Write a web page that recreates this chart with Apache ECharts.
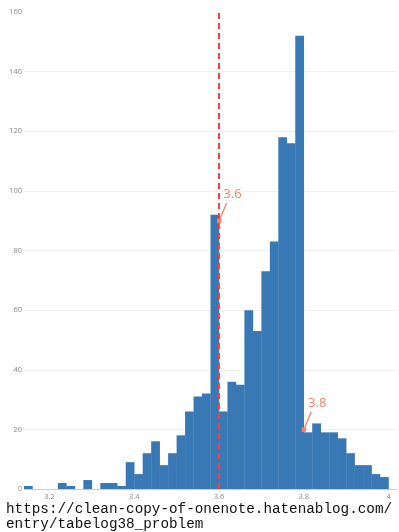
<!DOCTYPE html>
<html>
<head>
<meta charset="utf-8">
<script src="https://cdn.jsdelivr.net/npm/echarts@6/dist/echarts.min.js"></script>
<style>
html,body{margin:0;padding:0;background:#fff;}
#chart{width:399px;height:532px;}
</style>
</head>
<body>
<div id="chart"></div>
<script>
// Histogram bins (left edges) and counts
const binStarts = [3.14,3.16,3.18,3.20,3.22,3.24,3.26,3.28,3.30,3.32,
                   3.34,3.36,3.38,3.40,3.42,3.44,3.46,3.48,3.50,3.52,
                   3.54,3.56,3.58,3.60,3.62,3.64,3.66,3.68,3.70,3.72,
                   3.74,3.76,3.78,3.80,3.82,3.84,3.86,3.88,3.90,3.92,
                   3.94,3.96,3.98];
const binWidth = 0.02;
const counts = [1,0,0,0,2,1,0,3,0,2,
                2,1,9,5,12,16,8,12,18,26,
                31,32,92,26,36,35,60,53,73,83,
                118,116,152,19,22,19,19,17,12,8,
                8,5,4];
const xTicks = [3.2,3.4,3.6,3.8,4];
const yTicks = [0,20,40,60,80,100,120,140,160];
const refLineX = 3.6;
const annotX = [3.6, 3.8];
const annotY = [90, 20];
const annotText = ['3.6', '3.8'];
const sourceLines = ['https://clean-copy-of-onenote.hatenablog.com/', 'entry/tabelog38_problem'];

const barData = binStarts.map((s, i) => [s, +(s + binWidth).toFixed(2), counts[i]]);
const annotData = annotX.map((x, i) => [x, annotY[i], annotText[i]]);

const chart = echarts.init(document.getElementById('chart'), null, {renderer: 'canvas'});
const annColor = '#f5826c';
chart.setOption({
  animation: false,
  backgroundColor: '#ffffff',
  grid: {left: 24, right: 2, top: 12, bottom: 43, containLabel: false},
  xAxis: {
    type: 'value', min: 3.14, max: 4.02,
    axisLine: {show: true, lineStyle: {color: '#c9cdd2', width: 1}},
    axisTick: {show: false},
    splitLine: {show: false},
    axisLabel: {
      customValues: xTicks,
      color: '#8a8a8a', fontSize: 7.5, fontFamily: 'Open Sans', margin: 4,
      formatter: v => String(+v.toFixed(2))
    }
  },
  yAxis: {
    type: 'value', min: yTicks[0], max: yTicks[yTicks.length - 1], interval: 20,
    axisLine: {show: false},
    axisTick: {show: false},
    splitLine: {show: true, showMinLine: false, showMaxLine: false, lineStyle: {color: '#f1f1f1', width: 1}},
    axisLabel: {color: '#8a8a8a', fontSize: 7.5, fontFamily: 'Open Sans', margin: 2}
  },
  series: [
    {
      type: 'custom',
      data: barData,
      encode: {x: [0, 1], y: 2},
      renderItem: function (params, api) {
        const v = api.value(2);
        if (!v) return null;
        const tl = api.coord([api.value(0), v]);
        const br = api.coord([api.value(1), 0]);
        return {
          type: 'rect',
          shape: {x: tl[0], y: tl[1], width: br[0] - tl[0] + 0.3, height: br[1] - tl[1]},
          style: {fill: '#3778b5'}
        };
      },
      markLine: {
        silent: true,
        symbol: ['none', 'none'],
        label: {show: false},
        lineStyle: {color: '#ff3b3b', type: [6, 4], width: 2},
        data: [{xAxis: refLineX}]
      },
      z: 2
    },
    {
      type: 'custom',
      data: annotData,
      encode: {x: 0, y: 1},
      z: 5,
      renderItem: function (params, api) {
        const p = api.coord([api.value(0), api.value(1)]);
        const label = annotText[params.dataIndex];
        return {
          type: 'group',
          children: [
            {type: 'line', shape: {x1: p[0] + 1, y1: p[1] - 2, x2: p[0] + 7.5, y2: p[1] - 17.5},
             style: {stroke: annColor, lineWidth: 1.3}},
            {type: 'rect', shape: {x: p[0] - 2, y: p[1] - 2, width: 4.5, height: 4.5},
             style: {fill: annColor}},
            {type: 'text', x: p[0] + 13.5, y: p[1] - 26,
             style: {text: label, fill: annColor, font: '13px "Open Sans"', align: 'center', verticalAlign: 'middle'}}
          ]
        };
      }
    }
  ],
  graphic: sourceLines.map((t, i) => ({
    type: 'text', left: 6, top: 502 + i * 15,
    style: {text: t, fill: '#111', font: '14.3px "Liberation Mono"'}
  }))
});
</script>
</body>
</html>
